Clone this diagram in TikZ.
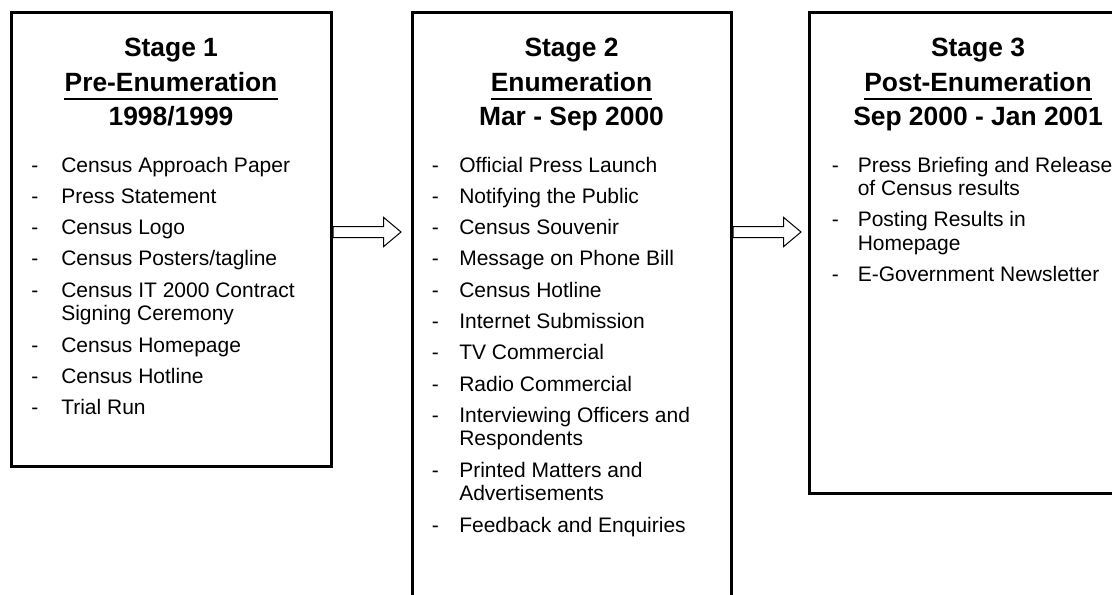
\documentclass[tikz,border=0pt]{standalone}
\usepackage{fontspec}
\setmainfont{Liberation Sans}
\usetikzlibrary{shapes.arrows}

\newcommand\itemlines[1]{\begin{tabular}[t]{@{}l@{}}#1\end{tabular}}

\begin{document}
\begin{tikzpicture}[x=0.75pt,y=0.75pt]

\tikzset{
  stage box/.style={draw=black,line width=2.25pt,inner sep=0pt},
  stage title/.style={font=\fontsize{19.8}{24}\selectfont\bfseries,inner sep=0pt,anchor=base},
  item dash/.style={font=\fontsize{15.75}{17.6}\selectfont,inner sep=0pt,anchor=base west},
  flow arrow/.style={draw=black,line width=0.75pt,fill=white,single arrow,
    single arrow head extend=6.75pt,single arrow tip angle=80,
    minimum height=51pt,inner xsep=0pt,inner ysep=3.75pt}
}

\useasboundingbox (0,0) rectangle (1112,594);
\begin{scope}
\clip (0,0) rectangle (1112,594);

\coordinate (flowline) at (0,362);

%% Stage boxes
\node[stage box,minimum width=240pt,minimum height=339.75pt] (s1) at (171,354.5) {};
\node[stage box,minimum width=239.25pt,minimum height=458.25pt] (s2) at (571.5,275.5) {};
\node[stage box,minimum width=255.4pt,minimum height=360pt] (s3) at (979.75,341) {};

%% Arrows between stages
\node[flow arrow,anchor=tail] (a12) at (s1.east |- flowline) {};
\node[flow arrow,anchor=tail] (a23) at (s2.east |- flowline) {};

%% Stage 1
\node[stage title] (st1) at (171,537) {Stage 1};
\node[stage title] (pe1) at (171,503) {Pre-Enumeration};
\node[stage title] (yr1) at (171,469) {1998/1999};
\draw[line width=1.5pt] ([yshift=-5.8pt]pe1.base west) -- ([yshift=-5.8pt]pe1.base east);

\foreach \yy/\txt [count=\i] in {422/Census Approach Paper, 390.7/Press Statement,
    359.4/Census Logo, 328.1/{Census Posters/tagline},
    296.8/{Census IT 2000 Contract\\Signing Ceremony}, 242/Census Homepage,
    210.7/Census Hotline, 179.4/Trial Run}{
  \node[item dash] (d1-\i) at (31,\yy) {-};
  \node[item dash] (t1-\i) at (61,\yy) {\itemlines{\txt}};
}

%% Stage 2
\node[stage title] (st2) at (571.5,537) {Stage 2};
\node[stage title] (pe2) at (571.5,503) {Enumeration};
\node[stage title] (yr2) at (571.5,469) {Mar - Sep 2000};
\draw[line width=1.5pt] ([yshift=-5.8pt]pe2.base west) -- ([yshift=-5.8pt]pe2.base east);

\foreach \yy/\txt [count=\i] in {422/Official Press Launch, 390.7/Notifying the Public,
    359.4/Census Souvenir, 328.1/Message on Phone Bill, 296.8/Census Hotline,
    265.5/Internet Submission, 234.2/TV Commercial, 202.9/Radio Commercial,
    171.6/{Interviewing Officers and\\Respondents},
    116.8/{Printed Matters and\\Advertisements}, 62/Feedback and Enquiries}{
  \node[item dash] (d2-\i) at (431.5,\yy) {-};
  \node[item dash] (t2-\i) at (459,\yy) {\itemlines{\txt}};
}

%% Stage 3
\node[stage title] (st3) at (978,537) {Stage 3};
\node[stage title] (pe3) at (978,503) {Post-Enumeration};
\node[stage title] (yr3) at (978,469) {Sep 2000 - Jan 2001};
\draw[line width=1.5pt] ([yshift=-5.8pt]pe3.base west) -- ([yshift=-5.8pt]pe3.base east);

\foreach \yy/\txt [count=\i] in {422/{Press Briefing and Release\\of Census results},
    367.2/{Posting Results in\\Homepage}, 312.4/E-Government Newsletter}{
  \node[item dash] (d3-\i) at (831.5,\yy) {-};
  \node[item dash] (t3-\i) at (857.5,\yy) {\itemlines{\txt}};
}

\end{scope}
\end{tikzpicture}
\end{document}
